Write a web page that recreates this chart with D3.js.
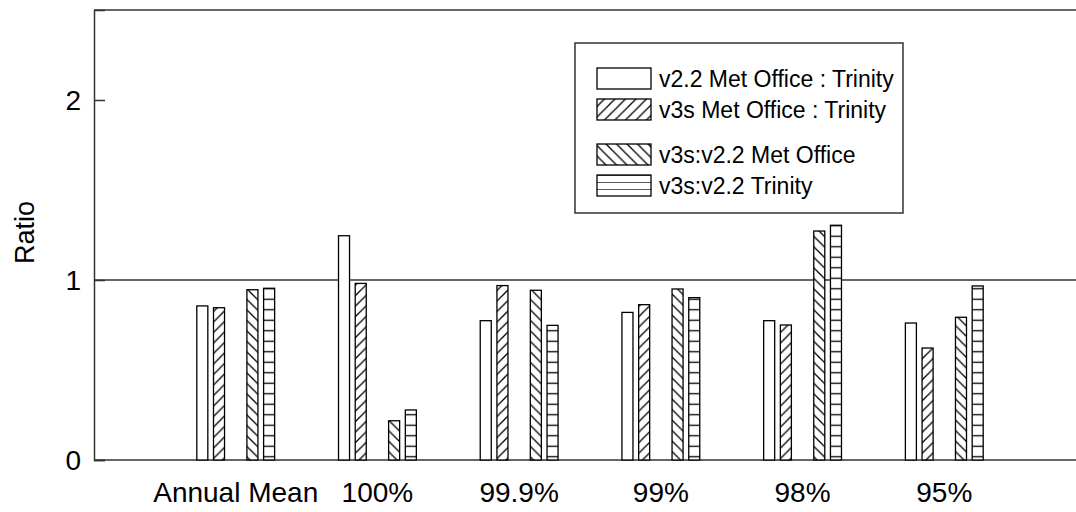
<!DOCTYPE html>
<html>
<head>
<meta charset="utf-8">
<script src="https://cdn.jsdelivr.net/npm/d3@7"></script>
<style>
  html, body { margin: 0; padding: 0; background: #fff; }
  svg { display: block; font-family: "Liberation Sans", Arial, sans-serif; }
</style>
</head>
<body>
<svg id="chart" width="1076" height="512"></svg>
<script>
// ---- data ----
const categories = ["Annual Mean", "100%", "99.9%", "99%", "98%", "95%"];
const v22MetTrinity = [0.856, 1.246, 0.774, 0.820, 0.774, 0.761];
const v3sMetTrinity = [0.846, 0.981, 0.969, 0.863, 0.750, 0.622];
const v3sV22Met     = [0.946, 0.218, 0.943, 0.950, 1.272, 0.793];
const v3sV22Trinity = [0.954, 0.278, 0.748, 0.902, 1.304, 0.967];
const seriesNames = ["v2.2 Met Office : Trinity", "v3s Met Office : Trinity", "v3s:v2.2 Met Office", "v3s:v2.2 Trinity"];
const yTicks = [0, 1, 2];

const series = [
  { key: "s0", name: seriesNames[0], values: v22MetTrinity, pat: "none" },
  { key: "s1", name: seriesNames[1], values: v3sMetTrinity, pat: "fwd" },
  { key: "s2", name: seriesNames[2], values: v3sV22Met, pat: "back" },
  { key: "s3", name: seriesNames[3], values: v3sV22Trinity, pat: "horiz" }
];

const svg = d3.select("#chart");
const axisColor = "#333";

// patterns
const defs = svg.append("defs");
function hatch(id, d, w, h, oy) {
  const p = defs.append("pattern").attr("id", id)
    .attr("patternUnits", "userSpaceOnUse").attr("width", w).attr("height", h);
  if (oy !== undefined) p.attr("y", oy);
  p.append("rect").attr("width", w).attr("height", h).attr("fill", "#fff");
  p.append("path").attr("d", d).attr("stroke", "#000").attr("stroke-width", 1.3).attr("fill", "none");
}
const S = 10.5;
hatch("fwd", `M0,${S} L${S},0 M${-S/2},${S/2} L${S/2},${-S/2} M${S/2},${S*1.5} L${S*1.5},${S/2}`, S, S);
hatch("back", `M0,0 L${S},${S} M${-S/2},${S/2} L${S/2},${S*1.5} M${S/2},${-S/2} L${S*1.5},${S/2}`, S, S);
hatch("horiz", `M0,${S/2} L${S},${S/2}`, S, S);
hatch("horizLeg", `M0,0 L10,0`, 10, 7, 175);
function fillFor(pat) { return pat === "none" ? "#fff" : `url(#${pat})`; }

// scales
const x = d3.scaleLinear().domain([0, 7]).range([94, 1086]);
const y = d3.scaleLinear().domain([0, 2.5]).range([460, 10]);
const slots = ["s0", "s1", "gap", "s2", "s3"];
const xs = d3.scaleBand().domain(slots).range([-41.75, 41.75]).paddingInner(0.34).paddingOuter(0.17);

// frame: top line, bottom axis
svg.append("line").attr("x1", x(0)).attr("x2", x(7)).attr("y1", y(2.5)).attr("y2", y(2.5))
  .attr("stroke", axisColor).attr("stroke-width", 1.5);
svg.append("line").attr("x1", x(0)).attr("x2", x(7)).attr("y1", y(0)).attr("y2", y(0))
  .attr("stroke", axisColor).attr("stroke-width", 1.5);

// y axis
const yAxis = d3.axisRight(y).tickValues(yTicks).tickSize(11).tickFormat("");
const ga = svg.append("g").attr("transform", `translate(${x(0)},0)`).call(yAxis);
ga.select(".domain").attr("stroke", axisColor).attr("stroke-width", 1.5);
ga.selectAll(".tick line").attr("stroke", axisColor).attr("stroke-width", 1.5);

svg.append("g").selectAll("text").data(yTicks).join("text")
  .attr("x", 81).attr("y", d => y(d) + 10)
  .attr("text-anchor", "end").attr("font-size", 28).attr("fill", "#000")
  .text(d => d);

svg.append("text").attr("transform", `translate(34,${232.5}) rotate(-90)`)
  .attr("text-anchor", "middle").attr("font-size", 27).attr("fill", "#000").text("Ratio");

// reference line at 1
svg.append("line").attr("x1", x(0)).attr("x2", x(7)).attr("y1", y(1)).attr("y2", y(1))
  .attr("stroke", axisColor).attr("stroke-width", 1.5);

// bars
const gBars = svg.append("g");
series.forEach(s => {
  gBars.append("g").selectAll("rect").data(s.values).join("rect")
    .attr("x", (d, i) => x(i + 1) + xs(s.key))
    .attr("width", xs.bandwidth())
    .attr("y", d => y(d))
    .attr("height", d => y(0) - y(d))
    .attr("fill", fillFor(s.pat))
    .attr("stroke", "#000").attr("stroke-width", 1.3);
});

// x labels
svg.append("g").selectAll("text").data(categories).join("text")
  .attr("x", (d, i) => x(i + 1)).attr("y", 502)
  .attr("text-anchor", "middle").attr("font-size", 28).attr("fill", "#000")
  .text(d => d);

// legend
const lg = svg.append("g");
lg.append("rect").attr("x", 575).attr("y", 43).attr("width", 328).attr("height", 170)
  .attr("fill", "#fff").attr("stroke", axisColor).attr("stroke-width", 1.5);
const rowY = [68, 99, 144, 175];
series.forEach((s, i) => {
  const f = s.pat === "horiz" ? "url(#horizLeg)" : fillFor(s.pat);
  lg.append("rect").attr("x", 597).attr("y", rowY[i]).attr("width", 54).attr("height", 21)
    .attr("fill", f).attr("stroke", "#000").attr("stroke-width", 1.3);
  lg.append("text").attr("x", 659).attr("y", rowY[i] + 19)
    .attr("font-size", 23).attr("fill", "#000").text(s.name);
});
</script>
</body>
</html>
